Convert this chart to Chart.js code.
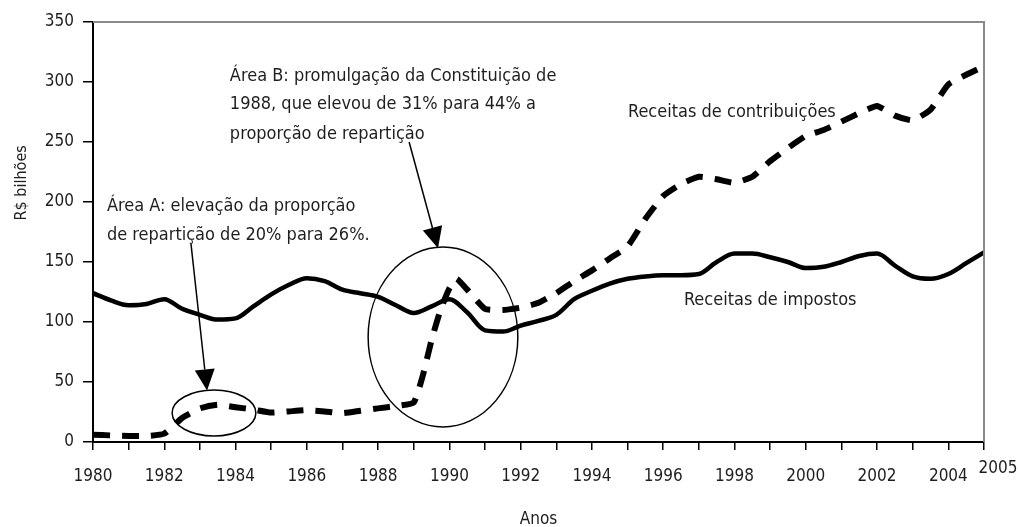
<!DOCTYPE html>
<html>
<head>
<meta charset="utf-8">
<script src="https://cdn.jsdelivr.net/npm/chart.js@4/dist/chart.umd.min.js"></script>
<style>
  html, body { margin: 0; padding: 0; background: #fff; }
  #wrap { width: 1018px; height: 527px; }
</style>
</head>
<body>
<div id="wrap"><canvas id="chart"></canvas></div>
<script>
// Receitas de impostos (R$ bilhões), half-year readings
const impYears = [1980, 1980.5, 1981, 1981.5, 1982, 1982.5, 1983, 1983.5, 1984, 1984.5,
    1985, 1985.5, 1986, 1986.5, 1987, 1987.5, 1988, 1988.5, 1989, 1989.5,
    1990, 1990.5, 1991, 1991.5, 1992, 1992.5, 1993, 1993.5, 1994, 1994.5,
    1995, 1995.5, 1996, 1996.5, 1997, 1997.5, 1998, 1998.5, 1999, 1999.5,
    2000, 2000.5, 2001, 2001.5, 2002, 2002.5, 2003, 2003.5, 2004, 2004.5, 2005];
const impValues = [124, 118, 114, 115, 119, 111, 106, 102, 103, 113,
    123, 131, 136.5, 134, 127, 124, 121, 114, 107.5, 113,
    119, 108, 93, 92, 97, 101, 106, 119, 126, 132,
    136, 138, 139, 139, 140, 150, 157, 157, 154, 150,
    145, 146, 150, 155, 157, 147, 138, 136, 140, 149, 158];

// Receitas de contribuições (R$ bilhões)
const conYears = [1980, 1980.5, 1981, 1981.5, 1982, 1982.5, 1983, 1983.5, 1984, 1984.5,
    1985, 1985.5, 1986, 1986.5, 1987, 1987.5, 1988, 1988.5, 1989, 1989.25,
    1989.5, 1989.75, 1990, 1990.2, 1990.5, 1991, 1991.5, 1992, 1992.5, 1993,
    1993.5, 1994, 1994.5, 1995, 1995.5, 1996, 1996.5, 1997, 1997.5, 1998,
    1998.5, 1999, 1999.5, 2000, 2000.5, 2001, 2001.5, 2002, 2002.5, 2003,
    2003.5, 2004, 2004.5, 2005];
const conValues = [6, 5.5, 5, 5, 7, 20, 28, 31, 29, 27,
    24.5, 25.5, 26.5, 25.5, 24, 26, 28, 30, 33, 55,
    85, 110, 128, 136, 127, 111, 110, 112, 116, 124,
    134, 143, 153, 163, 186, 205, 215, 221, 219, 216,
    221, 234, 245, 255, 260, 267, 274, 280, 272, 268,
    277, 298, 306, 313];

const xTicks = [1980, 1982, 1984, 1986, 1988, 1990, 1992, 1994, 1996, 1998, 2000, 2002, 2004];

const FONT = "'DejaVu Sans Condensed', 'Liberation Sans Narrow', sans-serif";
const TEXT = '#1e1e1e';

// Notes drawn on the chart, anchored in data units
const notes = [
    { x: 1983.84, y: 305, text: 'Área B: promulgação da Constituição de' },
    { x: 1983.84, y: 281, text: '1988, que elevou de 31% para 44% a' },
    { x: 1983.84, y: 256.5, text: 'proporção de repartição' },
    { x: 1980.39, y: 196, text: 'Área A: elevação da proporção' },
    { x: 1980.39, y: 172, text: 'de repartição de 20% para 26%.' },
    { x: 1995.01, y: 275, text: 'Receitas de contribuições' },
    { x: 1996.58, y: 118, text: 'Receitas de impostos' }
];
const ellipses = [
    { x1: 1982.22, x2: 1984.57, y1: 5, y2: 43.3 },
    { x1: 1987.72, x2: 1991.92, y1: 12.5, y2: 162.5 }
];
const arrows = [
    { fx: 1982.75, fy: 165, tx: 1983.2, ty: 43 },
    { fx: 1988.87, fy: 250, tx: 1989.68, ty: 161.5 }
];

const toPoints = (xs, ys) => xs.map((x, i) => ({ x: x, y: ys[i] }));

const extras = {
    id: 'extras',
    afterDatasetsDraw(chart) {
        const ctx = chart.ctx;
        const xs = chart.scales.x, ys = chart.scales.y;
        const area = chart.chartArea;
        ctx.save();

        // grey frame top and right
        ctx.strokeStyle = '#8a8a8a';
        ctx.lineWidth = 2;
        ctx.beginPath();
        ctx.moveTo(area.left, area.top);
        ctx.lineTo(area.right, area.top);
        ctx.lineTo(area.right, area.bottom);
        ctx.stroke();

        // ellipses
        ctx.strokeStyle = '#000';
        ctx.lineWidth = 1.5;
        ellipses.forEach(e => {
            const l = xs.getPixelForValue(e.x1), r = xs.getPixelForValue(e.x2);
            const t = ys.getPixelForValue(e.y2), b = ys.getPixelForValue(e.y1);
            ctx.beginPath();
            ctx.ellipse((l + r) / 2, (t + b) / 2, (r - l) / 2, (b - t) / 2, 0, 0, Math.PI * 2);
            ctx.stroke();
        });

        // arrows
        arrows.forEach(a => {
            const x0 = xs.getPixelForValue(a.fx), y0 = ys.getPixelForValue(a.fy);
            const x1 = xs.getPixelForValue(a.tx), y1 = ys.getPixelForValue(a.ty);
            const ang = Math.atan2(y1 - y0, x1 - x0);
            const hl = 21, hw = 10;
            const bx = x1 - hl * Math.cos(ang), by = y1 - hl * Math.sin(ang);
            ctx.lineWidth = 1.5;
            ctx.beginPath();
            ctx.moveTo(x0, y0);
            ctx.lineTo(bx, by);
            ctx.stroke();
            ctx.fillStyle = '#000';
            ctx.beginPath();
            ctx.moveTo(x1, y1);
            ctx.lineTo(bx + hw * Math.sin(ang), by - hw * Math.cos(ang));
            ctx.lineTo(bx - hw * Math.sin(ang), by + hw * Math.cos(ang));
            ctx.closePath();
            ctx.fill();
        });

        // notes
        ctx.fillStyle = TEXT;
        ctx.font = '18px ' + FONT;
        ctx.textAlign = 'left';
        ctx.textBaseline = 'middle';
        notes.forEach(n => {
            ctx.fillText(n.text, xs.getPixelForValue(n.x), ys.getPixelForValue(n.y));
        });

        // last year label sits a bit right of and above its tick, as in the source
        ctx.font = '17px ' + FONT;
        ctx.textAlign = 'center';
        ctx.fillText('2005', xs.getPixelForValue(2005) + 14, area.bottom + 27);

        // y title
        ctx.font = '16px ' + FONT;
        ctx.translate(area.left - 71, ys.getPixelForValue(216));
        ctx.rotate(-Math.PI / 2);
        ctx.fillText('R$ bilhões', 0, 0);
        ctx.restore();
    }
};

new Chart(document.getElementById('chart').getContext('2d'), {
    type: 'line',
    data: {
        datasets: [
            {
                label: 'Receitas de contribuições',
                data: toPoints(conYears, conValues),
                borderColor: '#000',
                borderWidth: 6,
                borderDash: [17, 12],
                borderCapStyle: 'butt',
                tension: 0.15,
                pointRadius: 0,
                fill: false
            },
            {
                label: 'Receitas de impostos',
                data: toPoints(impYears, impValues),
                borderColor: '#000',
                borderWidth: 4.5,
                cubicInterpolationMode: 'monotone',
                pointRadius: 0,
                fill: false
            }
        ]
    },
    options: {
        responsive: true,
        maintainAspectRatio: false,
        animation: false,
        layout: { padding: { left: 0, right: 34, top: 22, bottom: 0 } },
        plugins: {
            legend: { display: false },
            tooltip: { enabled: false }
        },
        scales: {
            x: {
                type: 'linear',
                min: 1980,
                max: 2005,
                afterFit: s => { s.height = 85; },
                afterBuildTicks: s => {
                    const t = [];
                    for (let y = 1980; y <= 2005; y++) t.push({ value: y });
                    s.ticks = t;
                },
                ticks: {
                    autoSkip: false,
                    maxRotation: 0,
                    padding: 16,
                    color: TEXT,
                    font: { family: FONT, size: 17 },
                    callback: v => xTicks.includes(v) ? String(v) : ''
                },
                grid: { drawOnChartArea: false, drawTicks: true, tickLength: 8, color: '#000', lineWidth: 1.5 },
                border: { display: true, color: '#000', width: 2 },
                title: {
                    display: true,
                    text: 'Anos',
                    color: TEXT,
                    font: { family: FONT, size: 17 },
                    padding: { top: 0, bottom: -3 }
                }
            },
            y: {
                min: 0,
                max: 350,
                afterFit: s => { s.width = 93; },
                ticks: {
                    stepSize: 50,
                    padding: 9,
                    color: TEXT,
                    font: { family: FONT, size: 17 }
                },
                grid: { drawOnChartArea: false, drawTicks: true, tickLength: 10, color: '#000', lineWidth: 1.5 },
                border: { display: true, color: '#000', width: 2 }
            }
        }
    },
    plugins: [extras]
});
</script>
</body>
</html>
